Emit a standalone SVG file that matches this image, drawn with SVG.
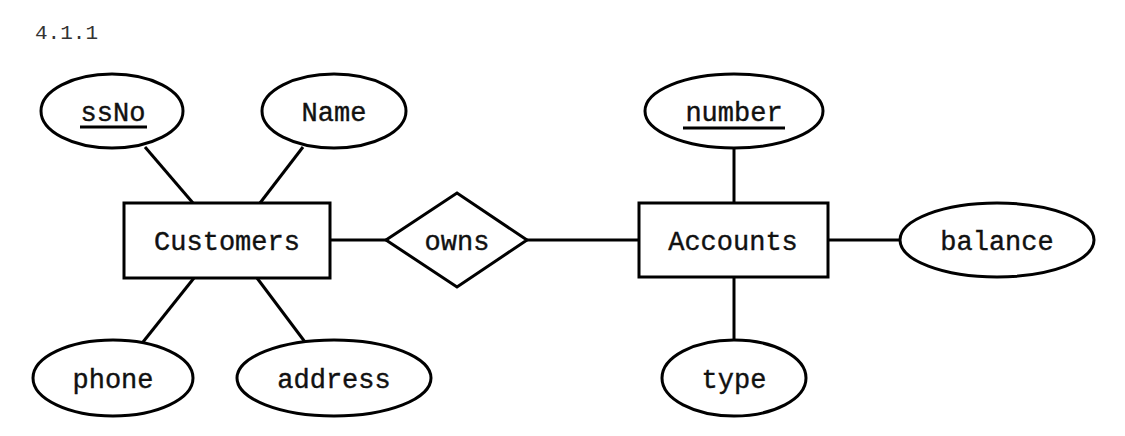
<svg xmlns="http://www.w3.org/2000/svg" width="1125" height="436" viewBox="0 0 1125 436">
<style>
.shape{fill:#fff;stroke:#000;stroke-width:3}
.conn{stroke:#000;stroke-width:3;fill:none}
.lbl{font-family:"Liberation Mono","DejaVu Sans Mono",monospace;font-size:27px;fill:#111;text-anchor:middle;stroke:#111;stroke-width:0.4}
.ul{stroke:#000;stroke-width:3}
</style>
<rect width="1125" height="436" fill="#fff"/>
<text x="35" y="39" style="font-family:'Liberation Mono',monospace;font-size:21px;fill:#333">4.1.1</text>
<g id="connectors">
<line class="conn" x1="145" y1="147" x2="193" y2="203"/>
<line class="conn" x1="303" y1="147" x2="260" y2="203"/>
<line class="conn" x1="194" y1="278" x2="143" y2="342"/>
<line class="conn" x1="257" y1="278" x2="305" y2="342"/>
<line class="conn" x1="330" y1="240" x2="386" y2="240"/>
<line class="conn" x1="527" y1="240" x2="639" y2="240"/>
<line class="conn" x1="734" y1="148" x2="734" y2="203"/>
<line class="conn" x1="734" y1="277" x2="734" y2="340"/>
<line class="conn" x1="828" y1="240" x2="900" y2="240"/>
</g>
<g id="ssNo">
<ellipse class="shape" cx="112" cy="111" rx="71" ry="37"/>
<text class="lbl" x="113" y="121">ssNo</text>
<line class="ul" x1="80" y1="127" x2="147" y2="127"/>
</g>
<g id="Name">
<ellipse class="shape" cx="334" cy="111" rx="72" ry="37"/>
<text class="lbl" x="334" y="121">Name</text>
</g>
<g id="Customers">
<rect class="shape" x="124" y="203" width="206" height="75"/>
<text class="lbl" x="227" y="250">Customers</text>
</g>
<g id="phone">
<ellipse class="shape" cx="113" cy="378" rx="80" ry="38"/>
<text class="lbl" x="113" y="388">phone</text>
</g>
<g id="address">
<ellipse class="shape" cx="334" cy="378" rx="97" ry="38"/>
<text class="lbl" x="334" y="388">address</text>
</g>
<g id="owns">
<polygon class="shape" points="386,240 457,193 527,240 457,287"/>
<text class="lbl" x="457" y="250">owns</text>
</g>
<g id="Accounts">
<rect class="shape" x="639" y="203" width="189" height="74"/>
<text class="lbl" x="733" y="250">Accounts</text>
</g>
<g id="number">
<ellipse class="shape" cx="734" cy="111" rx="89" ry="37"/>
<text class="lbl" x="734" y="121">number</text>
<line class="ul" x1="683" y1="128" x2="785" y2="128"/>
</g>
<g id="type">
<ellipse class="shape" cx="734" cy="378" rx="72" ry="38"/>
<text class="lbl" x="734" y="388">type</text>
</g>
<g id="balance">
<ellipse class="shape" cx="997" cy="240" rx="97" ry="37"/>
<text class="lbl" x="997" y="250">balance</text>
</g>
</svg>
